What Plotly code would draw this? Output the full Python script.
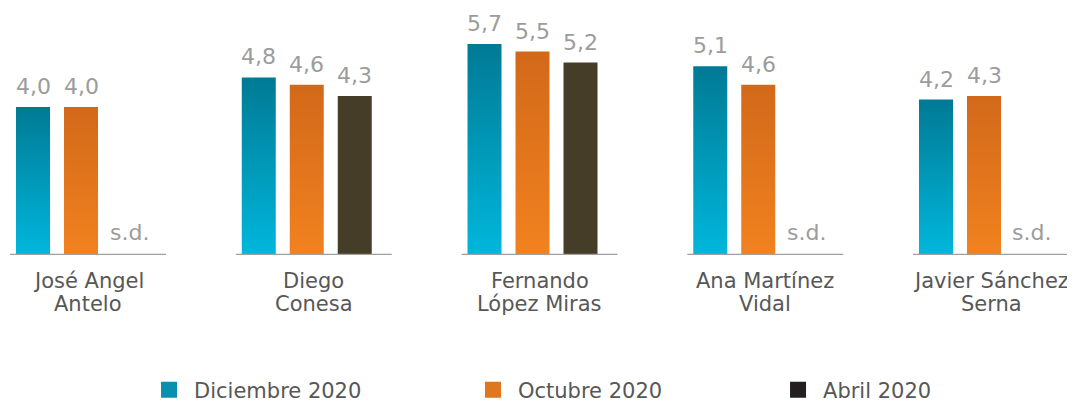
import plotly.graph_objects as go

# ---- data ----
candidates = [
    ["José Angel", "Antelo"],
    ["Diego", "Conesa"],
    ["Fernando", "López Miras"],
    ["Ana Martínez", "Vidal"],
    ["Javier Sánchez", "Serna"],
]
series_names = ["Diciembre 2020", "Octubre 2020", "Abril 2020"]
dic_2020 = [4.0, 4.8, 5.7, 5.1, 4.2]
oct_2020 = [4.0, 4.6, 5.5, 4.6, 4.3]
abr_2020 = [None, 4.3, 5.2, None, None]
missing_label = "s.d."

# ---- styles ----
series_values = [dic_2020, oct_2020, abr_2020]
grad_dark = ["#007a94", "#d2691a", "#463d29"]
grad_light = ["#00b7dc", "#f2821f", "#463d29"]
legend_col = ["#0a8fae", "#e0761d", "#231f20"]
legend_ids = ["legend", "legend2", "legend3"]
legend_x = [0.1275, 0.4311, 0.717]
offsets = [-0.2436, -0.031, 0.1816]
bar_w = 0.1506
seg_half = 0.3455
FONT = "DejaVu Sans"
val_col = "#9c9c9c"
lab_col = "#575757"

fig = go.Figure()
annotations = []

for k, vals in enumerate(series_values):
    for i, v in enumerate(vals):
        xc = i + offsets[k]
        if v is None:
            annotations.append(dict(x=xc, y=0, xref="x", yref="y", text=missing_label,
                                    showarrow=False, yanchor="bottom", yshift=8,
                                    font=dict(family=FONT, size=22, color=val_col)))
            continue
        x0, x1 = xc - bar_w / 2, xc + bar_w / 2
        fig.add_trace(go.Scatter(
            x=[x0, x1, x1, x0, x0], y=[0, 0, v, v, 0],
            mode="lines", line=dict(width=0), fill="toself",
            fillgradient=dict(type="vertical",
                              colorscale=[[0, grad_light[k]], [1, grad_dark[k]]]),
            fillcolor=grad_dark[k],
            hoverinfo="skip", showlegend=False))
        annotations.append(dict(x=xc, y=v, xref="x", yref="y",
                                text=f"{v:.1f}".replace(".", ","),
                                showarrow=False, yanchor="bottom", yshift=6,
                                font=dict(family=FONT, size=22, color=val_col)))

# legend entries (one legend per series so each can be placed)
for k, name in enumerate(series_names):
    fig.add_trace(go.Scatter(
        x=[None], y=[None], mode="markers", name=name, legend=legend_ids[k],
        marker=dict(symbol="square", size=16, color=legend_col[k], line=dict(width=0)),
        showlegend=True))

# baseline segments and category labels
shapes = []
for i, lines in enumerate(candidates):
    shapes.append(dict(type="line", xref="x", yref="y", x0=i - seg_half, x1=i + seg_half,
                       y0=0, y1=0, line=dict(color="#a0a0a0", width=2.5)))
    for j, txt in enumerate(lines):
        annotations.append(dict(x=i, y=0, xref="x", yref="paper", text=txt,
                                showarrow=False, yanchor="middle", yshift=-26 - 22.5 * j,
                                font=dict(family=FONT, size=21, color=lab_col)))

legend_common = dict(orientation="h", xanchor="left", y=-0.5466, yanchor="middle",
                     itemwidth=40,
                     font=dict(family=FONT, size=21, color=lab_col),
                     bgcolor="rgba(0,0,0,0)")

fig.update_layout(
    width=1067, height=396,
    margin=dict(l=0, r=0, t=0, b=149, autoexpand=False),
    paper_bgcolor="white", plot_bgcolor="white",
    xaxis=dict(range=[-0.3544, 4.3721], showgrid=False, zeroline=False,
               showticklabels=False, showline=False, fixedrange=True),
    yaxis=dict(range=[0, 6.676], showgrid=False, zeroline=False,
               showticklabels=False, showline=False, fixedrange=True),
    shapes=shapes,
    annotations=annotations,
    showlegend=True,
    legend=dict(x=legend_x[0], **legend_common),
    legend2=dict(x=legend_x[1], **legend_common),
    legend3=dict(x=legend_x[2], **legend_common),
)

fig.write_html("out.html")
